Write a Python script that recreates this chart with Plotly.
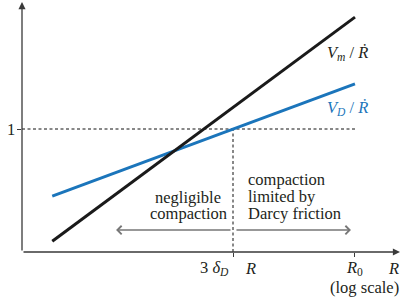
import numpy as np
import plotly.graph_objects as go

# ---- data (R measured in units of 3*delta_D, log-log axes) ----
R_ends = [0.033, 10.0]            # start of curves, R0
Vm_over_Rdot = [0.057, 17.4]      # black line
VD_over_Rdot = [0.18, 3.16]       # blue line
R_split = 1.0                     # R = 3 delta_D
R_zero = 10.0                     # R0
unity = 1.0                       # V/Rdot = 1
regime_left = 0.11                # end of "negligible compaction" arrow
regime_right = 9.27               # end of "compaction limited" arrow
regime_level = 0.0759             # height of regime arrows
x_range_log = [-1.7295, 1.3689]
y_range_log = [-1.3636, 1.408]

FONT = "'Liberation Serif', 'DejaVu Serif', serif"
TXT = "#231f20"
BLUE = "#1b75bb"
AX = "#3a3a3a"

# plot area in pixels: x 22..400, y 2..252
def xp(px):
    return (px - 22) / 378.0

def yp(py):
    return (252 - py) / 250.0

x_min = 10 ** x_range_log[0]
y_min = 10 ** y_range_log[0]

fig = go.Figure()
# dashed guides
fig.add_trace(go.Scatter(x=[x_min, R_zero], y=[unity, unity], mode="lines",
                         line=dict(color="#111", width=1, dash="3px,2.5px"),
                         hoverinfo="skip", showlegend=False))
fig.add_trace(go.Scatter(x=[R_split, R_split], y=[y_min, unity], mode="lines",
                         line=dict(color="#111", width=1, dash="3px,2.5px"),
                         hoverinfo="skip", showlegend=False))
# curves
fig.add_trace(go.Scatter(x=R_ends, y=VD_over_Rdot, mode="lines",
                         line=dict(color=BLUE, width=3), showlegend=False))
fig.add_trace(go.Scatter(x=R_ends, y=Vm_over_Rdot, mode="lines",
                         line=dict(color="#1a1a1a", width=3), showlegend=False))

ann = []
# axes with arrowheads
ann.append(dict(x=0, y=1, xref="paper", yref="paper", ax=0, ay=250,
                showarrow=True, arrowhead=2, arrowsize=1.1, arrowwidth=1.3,
                arrowcolor=AX, text=""))
ann.append(dict(x=1.0, y=0, xref="paper", yref="paper", ax=-378, ay=0,
                showarrow=True, arrowhead=2, arrowsize=1.1, arrowwidth=1.3,
                arrowcolor=AX, text=""))
# regime arrows
ly = np.log10(regime_level)
ann.append(dict(x=np.log10(regime_left), y=ly, ax=np.log10(R_split) - 0.008, ay=ly,
                xref="x", yref="y", axref="x", ayref="y", showarrow=True,
                arrowhead=4, arrowsize=1.1, arrowwidth=1.5, arrowcolor="#777", text=""))
ann.append(dict(x=np.log10(regime_right), y=ly, ax=np.log10(R_split) + 0.016, ay=ly,
                xref="x", yref="y", axref="x", ayref="y", showarrow=True,
                arrowhead=4, arrowsize=1.1, arrowwidth=1.5, arrowcolor="#777", text=""))

def label(text, x, y, xanchor="left", color=TXT, size=16.5):
    ann.append(dict(x=x, y=y, xref="paper", yref="paper", text=text, showarrow=False,
                    xanchor=xanchor, yanchor="middle",
                    font=dict(family=FONT, size=size, color=color)))

label("<i>V<sub>m</sub></i> / <i>Ṙ</i>", xp(325), yp(53))
label("<i>V<sub>D</sub></i> / <i>Ṙ</i>", xp(325), yp(108), color=BLUE)
label("negligible", xp(188), yp(197), xanchor="center")
label("compaction", xp(188), yp(213), xanchor="center")
label("compaction", xp(246), yp(179))
label("limited by", xp(246), yp(196))
label("Darcy friction", xp(246), yp(213))
label("3 <i>δ<sub>D</sub></i>", xp(231), yp(268), xanchor="right")
label("<i>R</i>", xp(243), yp(268))
label("<i>R</i><sub>0</sub>", xp(354), yp(268), xanchor="center")
label("<i>R</i>", xp(401), yp(268), xanchor="right")
label("(log scale)", xp(401), yp(287), xanchor="right")
label("1", xp(11), yp(129), xanchor="center")

fig.update_layout(
    width=401, height=306,
    margin=dict(l=22, r=1, t=2, b=54, pad=0),
    paper_bgcolor="white", plot_bgcolor="white",
    showlegend=False,
    annotations=ann,
    xaxis=dict(type="log", range=x_range_log, showgrid=False, zeroline=False,
               showline=False, tickvals=[R_split, R_zero], ticks="outside",
               ticklen=4, tickcolor=AX, tickwidth=1, showticklabels=False,
               fixedrange=True),
    yaxis=dict(type="log", range=y_range_log, showgrid=False, zeroline=False,
               showline=False, tickvals=[unity], ticks="outside",
               ticklen=4, tickcolor=AX, tickwidth=1, automargin=False,
               showticklabels=False, fixedrange=True),
)
fig.write_html("out.html", config={"displayModeBar": False},
               post_script="document.body.style.margin='0';document.body.style.overflow='hidden';")
